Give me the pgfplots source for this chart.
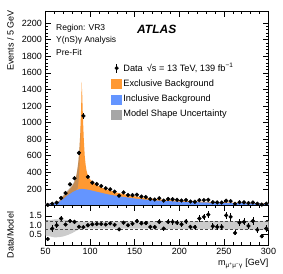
\documentclass[border=0pt]{standalone}
\usepackage{fontspec}
\setmainfont{Liberation Sans}
\usepackage{pgfplots}
\usepackage{pgfplotstable}
\pgfplotsset{compat=1.18}
\definecolor{excl}{RGB}{255,153,51}
\definecolor{incl}{RGB}{100,149,255}

\pgfplotstableread{
x B T
50 22 22
55 24 25
60 28 30
65 45 50
70 80 115
75 125 170
78 145 208
80 160 235
82 172 270
84 182 330
85 186 380
86 190 450
87 194 540
88 197 680
89 199 880
90 200 1200
90.6 200 1490
91.2 200 1330
92 199 1050
93 198 780
94 197 600
95 195 490
96 194 420
97 192 380
98 190 350
100 185 315
105 172 264
110 160 232
115 147 207
120 135 187
130 115 155
140 100 132
150 85 111
160 73 94
170 64 82
180 57 72
190 52 65
200 47 58
225 38 46
250 32 38
275 27 32
300 23 27
}\model

% main-panel uncertainty band outline: upper edge forward, lower edge back
\pgfplotstableread{
x y
50 25
55 28
60 33
65 55
70 125
75 185
78 222
80 250
82 286
84 345
85 392
86 460
87 545
88 680
89 860
89.5 1000
89.5 900
89 680
88 450
87 285
86 205
84 182
82 172
80 160
78 145
75 125
70 80
65 45
60 28
55 24
50 22
}\mband

\pgfplotstableread{
x y
50 1.25
55 1.28
60 1.31
65 1.32
70 1.30
75 1.27
80 1.25
85 1.22
90 1.20
100 1.20
150 1.20
200 1.21
250 1.22
300 1.24
300 0.76
250 0.78
200 0.80
150 0.82
100 0.82
90 0.81
85 0.72
80 0.58
75 0.48
70 0.40
65 0.36
60 0.35
55 0.40
50 0.45
}\rband

\pgfplotstableread{
x y e
52.5 7 2.6
57.5 21 4.6
62.5 34 5.8
67.5 90 9.5
72.5 150 12.2
77.5 255 16
82.5 328 18
87.5 635 25
92.5 1080 33
97.5 345 18.7
102.5 275 17
107.5 258 16.2
112.5 235 15.3
117.5 208 14.4
122.5 195 14
127.5 168 13
132.5 118 10.9
137.5 158 12.6
142.5 127 11.3
147.5 125 11.2
152.5 130 11.4
157.5 108 10.4
162.5 102 10.1
167.5 78 8.8
172.5 72 8.5
177.5 88 9.4
182.5 59 7.7
187.5 78 8.8
192.5 75 8.7
197.5 68 8.2
202.5 60 7.7
207.5 66 8.1
212.5 48 6.9
217.5 45 6.7
222.5 64 8
227.5 65 8.1
232.5 68 8.2
237.5 40 6.3
242.5 37 6.1
247.5 36 6
252.5 57 7.5
257.5 53 7.3
262.5 21 4.6
267.5 39 6.2
272.5 38 6.2
277.5 30 5.5
282.5 36 6
287.5 21 4.6
292.5 11 3.3
297.5 22 4.7
}\data

\pgfplotstableread{
x r e
52.5 0.26 0.11
57.5 0.82 0.18
62.5 1.00 0.17
67.5 1.36 0.15
72.5 1.04 0.09
77.5 1.23 0.08
82.5 1.18 0.07
87.5 0.92 0.04
92.5 0.90 0.03
97.5 1.00 0.05
102.5 1.05 0.06
107.5 1.07 0.07
112.5 1.07 0.07
117.5 1.04 0.07
122.5 1.10 0.08
127.5 1.02 0.08
132.5 0.78 0.07
137.5 1.14 0.09
142.5 1.00 0.09
147.5 1.08 0.10
152.5 1.22 0.11
157.5 1.10 0.11
162.5 1.12 0.11
167.5 0.91 0.10
172.5 0.90 0.11
177.5 1.18 0.13
182.5 0.82 0.11
187.5 1.18 0.13
192.5 1.18 0.14
197.5 1.14 0.14
202.5 1.05 0.14
207.5 1.20 0.15
212.5 0.91 0.13
217.5 0.90 0.13
222.5 1.36 0.17
227.5 1.45 0.18
232.5 1.57 0.19
237.5 0.95 0.15
242.5 0.91 0.15
247.5 0.91 0.15
252.5 1.53 0.20
257.5 1.45 0.20
262.5 0.59 0.13
267.5 1.14 0.18
272.5 1.18 0.19
277.5 0.96 0.18
282.5 1.23 0.20
287.5 0.75 0.16
292.5 0.41 0.12
297.5 0.82 0.17
}\ratio

\pgfplotsset{
  atlas/.style={
    scale only axis, width=223bp,
    xmin=50, xmax=300,
    xtick={50,100,...,300}, minor x tick num=4,
    tick align=inside, xtick pos=both, ytick pos=both,
    major tick length=6bp, minor tick length=3bp,
    tick style={black, line width=0.5pt},
    axis line style={line width=0.6pt},
    every tick label/.append style={font=\fontsize{9bp}{10bp}\selectfont},
    /pgf/number format/assume math mode=true,
    /pgf/number format/1000 sep={},
    clip=true,
  },
  datastyle/.style={black, only marks, mark=*, mark size=1.9bp,
    error bars/.cd, y dir=both, y explicit, error mark=none,
    error bar style={line width=0.6pt}, /pgfplots/.cd},
}

\begin{document}
\begin{tikzpicture}
\begin{axis}[atlas,
  at={(45.5bp,68.5bp)}, anchor=south west, height=194.5bp,
  ymin=0, ymax=2345,
  ytick={200,400,...,2200}, minor y tick num=4,
  xticklabels={},
  legend style={at={(0.295,0.74)}, anchor=north west, draw=none, fill=none,
    font=\fontsize{9.2bp}{11bp}\selectfont, row sep=4bp, inner sep=0pt,
    nodes={inner sep=1.5bp}},
  legend cell align=left,
]
\addlegendimage{legend image code/.code={\draw[black, line width=0.6pt] (5bp,-4.5bp)--(5bp,4.5bp); \fill[black] (5bp,0) circle (1.9bp);}}
\addlegendentry{Data \,√s = 13 TeV, 139 fb\textsuperscript{−1}}
\addlegendimage{legend image code/.code={\fill[excl] (0,-4.5bp) rectangle (10bp,4.5bp);}}
\addlegendentry{Exclusive Background}
\addlegendimage{legend image code/.code={\fill[incl] (0,-4.5bp) rectangle (10bp,4.5bp);}}
\addlegendentry{Inclusive Background}
\addlegendimage{legend image code/.code={\fill[gray!70] (0,-4.5bp) rectangle (10bp,4.5bp);}}
\addlegendentry{Model Shape Uncertainty}

\addplot[fill=excl, draw=none, forget plot] table[x=x, y=T] {\model} \closedcycle;
\addplot[fill=incl, draw=none, forget plot] table[x=x, y=B] {\model} \closedcycle;
\addplot[fill=gray, fill opacity=0.45, draw=none, forget plot] table[x=x, y=y] {\mband} -- cycle;
\addplot[forget plot, datastyle] table[x=x, y=y, y error=e] {\data};
\end{axis}

\begin{axis}[atlas,
  at={(45.5bp,29bp)}, anchor=south west, height=39.5bp,
  ymin=-0.06, ymax=2.06,
  ytick={0.5,1,1.5}, yticklabels={0.5,1.0,1.5}, minor y tick num=1,
]
\addplot[fill=gray!40, draw=none] table[x=x, y=y] {\rband} -- cycle;
\addplot[gray!60!black, densely dashed, line width=0.4pt] coordinates {(50,1.2) (300,1.2)};
\addplot[gray!60!black, densely dashed, line width=0.4pt] coordinates {(50,0.8) (300,0.8)};
\addplot[datastyle] table[x=x, y=r, y error=e] {\ratio};
\end{axis}

\node[rotate=90, anchor=north east, inner sep=0pt, font=\fontsize{9bp}{10bp}\selectfont] at (7bp,264bp) {Events / 5 GeV};
\node[rotate=90, anchor=north, inner sep=0pt, font=\fontsize{9bp}{10bp}\selectfont] at (7bp,39bp) {Data/Model};
\node[anchor=east, inner sep=0pt, font=\fontsize{9bp}{10bp}\selectfont] at (268.5bp,10bp) {m\textsubscript{μ\textsuperscript{+}μ\textsuperscript{−}γ} [GeV]};
\node[anchor=west, inner sep=0pt, font=\fontsize{8.5bp}{10bp}\selectfont] at (56bp,246bp) {Region: VR3};
\node[anchor=west, inner sep=0pt, font=\fontsize{8.5bp}{10bp}\selectfont] at (56bp,234bp) {Υ(nS)γ Analysis};
\node[anchor=west, inner sep=0pt, font=\fontsize{8.5bp}{10bp}\selectfont] at (56bp,222bp) {Pre-Fit};
\node[anchor=west, inner sep=0pt, font=\fontsize{12bp}{13bp}\selectfont\bfseries\itshape] at (137bp,245bp) {ATLAS};
\path (0,0) rectangle (283bp,274bp);
\end{tikzpicture}
\end{document}
